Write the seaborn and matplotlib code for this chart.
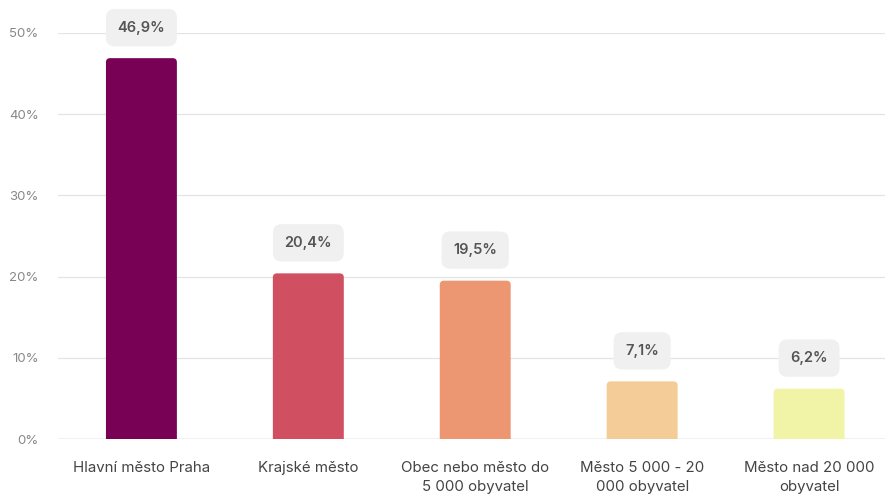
import matplotlib
matplotlib.use("Agg")
import matplotlib.pyplot as plt
from matplotlib.patches import FancyBboxPatch
import seaborn as sns
import pandas as pd

# data
categories = ["Hlavní město Praha", "Krajské město", "Obec nebo město do\n5 000 obyvatel",
              "Město 5 000 - 20\n000 obyvatel", "Město nad 20 000\nobyvatel"]
values = [46.9, 20.4, 19.5, 7.1, 6.2]
colors = ["#780055", "#d04f60", "#ed9772", "#f3cc98", "#f1f3a6"]
y_ticks = [0, 10, 20, 30, 40, 50]

sns.set_style("white")
plt.rcParams["font.family"] = ["Inter", "DejaVu Sans"]

df = pd.DataFrame({"kategorie": categories, "podil": values})

fig = plt.figure(figsize=(8.85, 4.99), dpi=100)
ax = fig.add_axes([0.0655, 0.1202, 0.9345, 0.8137])

sns.barplot(data=df, x="kategorie", y="podil", hue="kategorie",
            palette=colors, legend=False, width=0.425, saturation=1, ax=ax)

ax.set_ylim(0, 50)
ax.set_xlim(-0.5, 4.455)

# replace bars with rounded-top ones
for p in list(ax.patches):
    x, y, w, h = p.get_x(), p.get_y(), p.get_width(), p.get_height()
    fc = p.get_facecolor()
    p.remove()
    ax.add_patch(FancyBboxPatch((x, y - 2), w, h + 2,
                                boxstyle="round,pad=0,rounding_size=0.025",
                                mutation_aspect=20, facecolor=fc, edgecolor="none",
                                zorder=2))

# value labels
for i, v in enumerate(values):
    ax.annotate(f"{v:.1f}%".replace(".", ","), xy=(i, v), xytext=(0, 22),
                textcoords="offset points", ha="center", va="center",
                fontsize=10.5, fontweight="semibold", color="#555555",
                annotation_clip=False, zorder=4,
                bbox=dict(boxstyle="round,pad=0.8,rounding_size=0.6",
                          facecolor="#f0f0f0", edgecolor="none"))

ax.set_yticks(y_ticks)
ax.set_yticklabels([f"{t}%" for t in y_ticks])
ax.yaxis.grid(True, color="#e4e4e4", linewidth=0.9)
ax.set_axisbelow(True)
ax.axhline(0, color="#cccccc", linewidth=1, zorder=1)

ax.tick_params(axis="y", length=0, pad=14, labelsize=9.5, labelcolor="#888888")
ax.tick_params(axis="x", length=0, pad=16, labelsize=10.8, labelcolor="#444444")
for lbl in ax.get_xticklabels():
    lbl.set_linespacing(1.45)
ax.set_xlabel("")
ax.set_ylabel("")
sns.despine(ax=ax, left=True, bottom=True)

fig.savefig("out.png", dpi=100)
